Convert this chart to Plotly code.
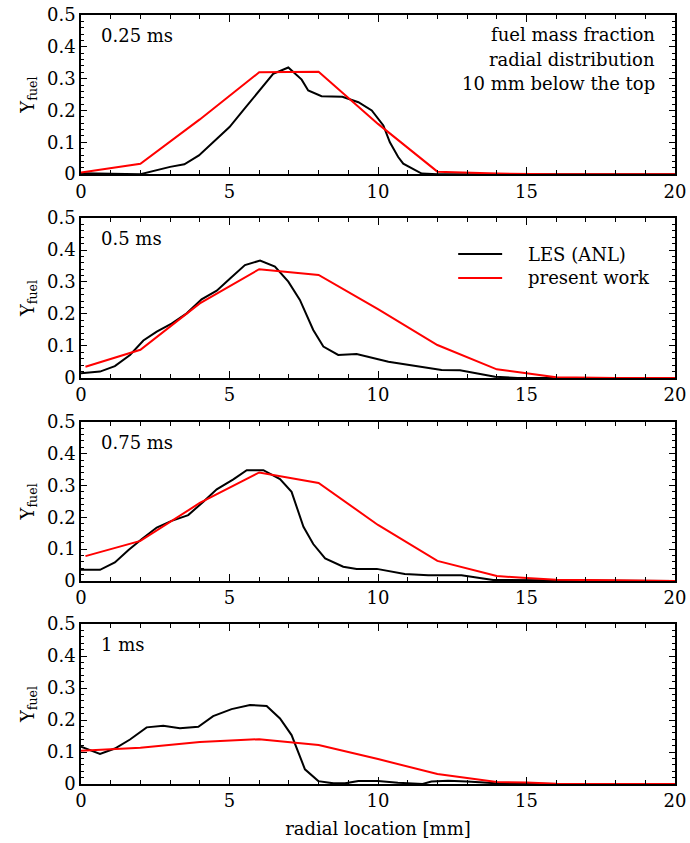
import plotly.graph_objects as go
from plotly.subplots import make_subplots

# ---- data (radial location in mm, fuel mass fraction) ----
times = ["0.25 ms", "0.5 ms", "0.75 ms", "1 ms"]

les_x_1 = [0, 1, 2, 3.0, 3.48, 3.97, 4.45, 5.0, 5.5, 6.0, 6.47, 6.98, 7.43, 7.65, 8.1, 8.8, 9.34, 9.79, 10.18, 10.4, 10.68, 10.85, 11.47, 12, 14, 16, 18, 20]
les_y_1 = [0.003, 0.002, 0.0, 0.023, 0.031, 0.059, 0.1, 0.148, 0.205, 0.262, 0.315, 0.335, 0.297, 0.263, 0.245, 0.243, 0.226, 0.2, 0.153, 0.1, 0.054, 0.033, 0.002, 0.0, 0.0, 0.0, 0.0, 0.0]
pw_x_1 = [0, 2, 4, 6, 8, 10, 12, 14, 16, 18, 20]
pw_y_1 = [0.005, 0.033, 0.172, 0.32, 0.322, 0.158, 0.008, 0.002, 0.0, 0.0, 0.0]

les_x_2 = [0, 0.64, 1.14, 1.65, 2.1, 2.55, 3.05, 3.56, 4.06, 4.57, 5.02, 5.52, 6.03, 6.53, 6.98, 7.37, 7.82, 8.16, 8.66, 9.28, 10.35, 12.14, 12.76, 13.94, 14.7, 16, 18, 20]
les_y_2 = [0.015, 0.02, 0.037, 0.072, 0.117, 0.145, 0.17, 0.202, 0.246, 0.273, 0.311, 0.353, 0.367, 0.348, 0.301, 0.244, 0.15, 0.098, 0.072, 0.075, 0.051, 0.025, 0.024, 0.004, 0.0, 0.0, 0.0, 0.0]
pw_x_2 = [0.15, 2, 4, 6, 8, 10, 12, 14, 15, 16, 18, 20]
pw_y_2 = [0.035, 0.088, 0.233, 0.34, 0.322, 0.215, 0.103, 0.027, 0.015, 0.002, 0.0, 0.0]

les_x_3 = [0, 0.64, 1.14, 1.6, 2.04, 2.55, 3.05, 3.61, 4.12, 4.57, 5.13, 5.58, 6.14, 6.7, 7.09, 7.49, 7.82, 8.22, 8.83, 9.28, 9.96, 10.9, 11.69, 12.81, 13.88, 14.6, 16, 18, 20]
les_y_3 = [0.035, 0.035, 0.058, 0.097, 0.131, 0.168, 0.189, 0.207, 0.249, 0.288, 0.319, 0.348, 0.348, 0.32, 0.28, 0.17, 0.116, 0.071, 0.045, 0.038, 0.038, 0.022, 0.018, 0.018, 0.003, 0.003, 0.002, 0.001, 0.0]
pw_x_3 = [0.15, 2, 4, 6, 8, 10, 12, 14, 15, 16, 18, 20]
pw_y_3 = [0.078, 0.126, 0.245, 0.341, 0.308, 0.176, 0.063, 0.016, 0.009, 0.004, 0.002, 0.0]

les_x_4 = [0, 0.64, 1.14, 1.65, 2.21, 2.77, 3.33, 3.95, 4.45, 5.07, 5.69, 6.25, 6.7, 7.09, 7.54, 7.99, 8.5, 8.89, 9.34, 10, 10.67, 11.5, 11.8, 12.36, 13.0, 14, 16, 18, 20]
les_y_4 = [0.117, 0.094, 0.111, 0.139, 0.177, 0.182, 0.174, 0.179, 0.212, 0.234, 0.247, 0.244, 0.205, 0.153, 0.046, 0.009, 0.002, 0.002, 0.009, 0.009, 0.004, 0.0, 0.008, 0.01, 0.008, 0.002, 0.0, 0.0, 0.0]
pw_x_4 = [0, 2, 4, 6, 8, 10, 12, 14, 15, 16, 18, 20]
pw_y_4 = [0.104, 0.113, 0.131, 0.14, 0.122, 0.078, 0.031, 0.006, 0.005, 0.001, 0.0, 0.0]

les_x = [les_x_1, les_x_2, les_x_3, les_x_4]
les_y = [les_y_1, les_y_2, les_y_3, les_y_4]
pw_x = [pw_x_1, pw_x_2, pw_x_3, pw_x_4]
pw_y = [pw_y_1, pw_y_2, pw_y_3, pw_y_4]

x_ticks = [0, 5, 10, 15, 20]
y_ticks = [0, 0.1, 0.2, 0.3, 0.4, 0.5]
series_names = ["LES (ANL)", "present work"]
series_colors = ["black", "#ff0000"]
info_lines = ["fuel mass fraction", "radial distribution", "10 mm below the top"]

FONT = "DejaVu Serif"
FS = 18

fig = make_subplots(rows=4, cols=1)

for i in range(4):
    r = i + 1
    fig.add_trace(go.Scatter(x=les_x[i], y=les_y[i], mode="lines", name=series_names[0],
                             line=dict(color=series_colors[0], width=2), showlegend=False),
                  row=r, col=1)
    fig.add_trace(go.Scatter(x=pw_x[i], y=pw_y[i], mode="lines", name=series_names[1],
                             line=dict(color=series_colors[1], width=2), showlegend=False),
                  row=r, col=1)

domains = [(0.793, 1.0), (0.528, 0.736), (0.264, 0.471), (0.0, 0.208)]
for i in range(4):
    sfx = "" if i == 0 else str(i + 1)
    fig.layout["xaxis" + sfx].update(
        domain=[0, 1], range=[0, 20], tickvals=x_ticks, ticks="inside", ticklen=7,
        tickwidth=1.2, tickcolor="black", showline=True, linecolor="black", linewidth=1.5,
        mirror="allticks", showgrid=False, zeroline=False, automargin=False,
        minor=dict(dtick=1, ticks="inside", ticklen=4, tickcolor="black", tickwidth=1),
        tickfont=dict(family=FONT, size=FS, color="black"),
    )
    fig.layout["yaxis" + sfx].update(
        domain=list(domains[i]), range=[0, 0.5], tickvals=y_ticks, ticks="inside", ticklen=6,
        tickwidth=1.2, tickcolor="black", showline=True, linecolor="black", linewidth=1.5,
        mirror="allticks", showgrid=False, zeroline=False, automargin=False,
        minor=dict(dtick=0.02, ticks="inside", ticklen=3, tickcolor="black", tickwidth=1),
        tickfont=dict(family=FONT, size=FS, color="black"),
        title=dict(text="Y<sub>fuel</sub>", font=dict(family=FONT, size=FS, color="black"), standoff=8),
    )
    xref = "x" + sfx + " domain"
    yref = "y" + sfx + " domain"
    fig.add_annotation(text=times[i], x=0.03, y=0.87, xref=xref, yref=yref,
                       xanchor="left", yanchor="middle", showarrow=False,
                       font=dict(family=FONT, size=FS, color="black"))

# info text in top panel
for j, line in enumerate(info_lines):
    fig.add_annotation(text=line, x=0.97, y=0.875 - j * 0.154, xref="x domain", yref="y domain",
                       xanchor="right", yanchor="middle", showarrow=False,
                       font=dict(family=FONT, size=FS, color="black"))

# legend in second panel (drawn as line samples + labels)
leg_rows = [0.775, 0.625]
for k in range(2):
    fig.add_shape(type="line", xref="x2 domain", yref="y2 domain",
                  x0=0.635, x1=0.709, y0=leg_rows[k], y1=leg_rows[k],
                  line=dict(color=series_colors[k], width=2))
    fig.add_annotation(text=series_names[k], x=0.749, y=leg_rows[k], xref="x2 domain", yref="y2 domain",
                       xanchor="left", yanchor="middle", showarrow=False,
                       font=dict(family=FONT, size=FS, color="black"))

fig.layout["xaxis4"].update(title=dict(text="radial location [mm]",
                                       font=dict(family=FONT, size=FS, color="black"), standoff=12))

fig.update_layout(
    width=690, height=843,
    margin=dict(l=81, r=15, t=15, b=59),
    plot_bgcolor="white", paper_bgcolor="white",
    font=dict(family=FONT, size=FS, color="black"),
    showlegend=False,
)

fig.write_html("out.html")
